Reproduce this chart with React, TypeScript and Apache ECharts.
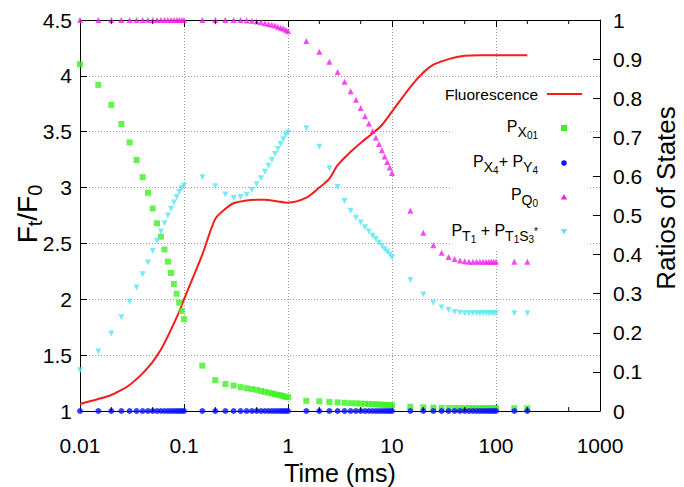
import React, { useEffect, useRef } from "react";
import * as echarts from "echarts";

// ---- data ----
const times = [
  0.01, 0.015, 0.02, 0.025, 0.03, 0.035, 0.04, 0.045, 0.05, 0.055, 0.06, 0.065, 0.07, 0.075, 0.08, 0.085, 0.09, 0.095, 0.1,
  0.15, 0.2, 0.25, 0.3, 0.35, 0.4, 0.45, 0.5, 0.55, 0.6, 0.65, 0.7, 0.75, 0.8, 0.85, 0.9, 0.95, 1.0,
  1.5, 2, 2.5, 3, 3.5, 4, 4.5, 5, 5.5, 6, 6.5, 7, 7.5, 8, 8.5, 9, 9.5, 10,
  15, 20, 25, 30, 35, 40, 45, 50, 55, 60, 65, 70, 75, 80, 85, 90, 95, 100,
  150, 200,
];

const pX01 = [
  0.887, 0.834, 0.783, 0.734, 0.687, 0.642, 0.598, 0.558, 0.518, 0.48, 0.446, 0.413, 0.382, 0.353, 0.325, 0.3, 0.277, 0.256, 0.235,
  0.116, 0.079, 0.069, 0.065, 0.061, 0.058, 0.056, 0.054, 0.051, 0.049, 0.047, 0.045, 0.043, 0.041, 0.04, 0.038, 0.036, 0.035,
  0.026, 0.025, 0.023, 0.022, 0.021, 0.02, 0.0195, 0.019, 0.0185, 0.018, 0.0175, 0.017, 0.0165, 0.016, 0.0158, 0.0154, 0.015, 0.0146,
  0.011, 0.0095, 0.0085, 0.008, 0.0078, 0.0076, 0.0075, 0.0074, 0.0073, 0.0072, 0.0072, 0.0071, 0.0071, 0.007, 0.007, 0.007, 0.007, 0.007,
  0.007, 0.007,
];

const pX4Y4 = [
  0, 0, 0, 0, 0, 0, 0, 0, 0, 0, 0, 0, 0, 0, 0, 0, 0, 0, 0,
  0, 0, 0, 0, 0, 0, 0, 0, 0, 0, 0, 0, 0, 0, 0, 0, 0, 0,
  0, 0, 0, 0, 0, 0, 0, 0, 0, 0, 0, 0, 0, 0, 0, 0, 0, 0,
  0, 0, 0, 0, 0, 0, 0, 0, 0, 0, 0, 0, 0, 0, 0, 0, 0, 0,
  0, 0,
];

const pQ0 = [
  1, 1, 1, 1, 1, 1, 1, 1, 1, 1, 1, 1, 1, 1, 1, 1, 1, 1, 1,
  1, 1, 1, 1, 1, 0.999, 0.998, 0.996, 0.994, 0.992, 0.99, 0.988, 0.986, 0.983, 0.98, 0.978, 0.975, 0.972,
  0.946, 0.919, 0.893, 0.867, 0.842, 0.818, 0.796, 0.775, 0.754, 0.735, 0.716, 0.699, 0.683, 0.667, 0.651, 0.637, 0.623, 0.609,
  0.512, 0.456, 0.424, 0.405, 0.394, 0.389, 0.385, 0.383, 0.382, 0.382, 0.382, 0.382, 0.382, 0.382, 0.382, 0.382, 0.382, 0.382,
  0.382, 0.382,
];

const pT1 = [
  0.104, 0.152, 0.198, 0.24, 0.28, 0.316, 0.35, 0.38, 0.409, 0.435, 0.459, 0.48, 0.5, 0.517, 0.533, 0.547, 0.56, 0.57, 0.576,
  0.598, 0.575, 0.554, 0.545, 0.547, 0.553, 0.565, 0.58, 0.595, 0.612, 0.627, 0.642, 0.657, 0.67, 0.683, 0.695, 0.706, 0.712,
  0.723, 0.676, 0.621, 0.573, 0.537, 0.512, 0.494, 0.482, 0.47, 0.459, 0.448, 0.44, 0.43, 0.422, 0.414, 0.407, 0.4, 0.393,
  0.335, 0.298, 0.277, 0.265, 0.258, 0.253, 0.251, 0.25, 0.25, 0.25, 0.25, 0.25, 0.25, 0.25, 0.25, 0.25, 0.25, 0.25,
  0.25, 0.25,
];

const flTime = [
  0.01, 0.015, 0.02, 0.025, 0.03, 0.035, 0.04, 0.05, 0.06, 0.07, 0.08, 0.09, 0.1,
  0.15, 0.2, 0.25, 0.3, 0.4, 0.5, 0.6, 0.7, 0.8,
  1, 1.5, 2, 2.5, 3, 4, 5, 6, 7, 8,
  10, 15, 20, 25, 30, 40, 50, 70, 100, 150, 200,
];
const flValue = [
  1.063, 1.107, 1.143, 1.188, 1.233, 1.286, 1.337, 1.44, 1.55, 1.67, 1.785, 1.89, 2.0,
  2.4, 2.72, 2.81, 2.86, 2.885, 2.89, 2.89, 2.885, 2.875,
  2.865, 2.91, 3.0, 3.08, 3.2, 3.32, 3.4, 3.46, 3.51, 3.56,
  3.68, 3.9, 4.03, 4.1, 4.13, 4.165, 4.18, 4.185, 4.185, 4.185, 4.185,
];

const xTickLabels = ["0.01", "0.1", "1", "10", "100", "1000"];
const xMinorTicks = [0.02, 0.05, 0.2, 0.5, 2, 5, 20, 50, 200, 500];

const FONT = "Liberation Sans";
const CSSFONT = '"Liberation Sans", Arial, Helvetica, sans-serif';

type Piece = { t: string; size: number; dy: number };

function measure(ctx: CanvasRenderingContext2D | null, t: string, size: number) {
  if (!ctx) return t.length * size * 0.55;
  ctx.font = `${size}px ${CSSFONT}`;
  return ctx.measureText(t).width;
}

function pieceTexts(ctx: any, pieces: Piece[], startX: number, cy: number, z: number) {
  let x = startX;
  return pieces.map((p) => {
    const el = {
      type: "text",
      x,
      y: cy + p.dy,
      z,
      style: {
        text: p.t,
        fontSize: p.size,
        fontFamily: FONT,
        fill: "#000",
        textAlign: "left",
        textVerticalAlign: "middle",
      },
    };
    x += measure(ctx, p.t, p.size);
    return el;
  });
}

function widthOf(ctx: any, pieces: Piece[]) {
  return pieces.reduce((s, p) => s + measure(ctx, p.t, p.size), 0);
}

export default function App() {
  const ref = useRef<HTMLDivElement>(null);
  useEffect(() => {
    if (!ref.current) return;
    const chart = echarts.init(ref.current, null, { renderer: "svg" });
    const canvas = document.createElement("canvas");
    const ctx = canvas.getContext("2d");

    const M = 16, S = 14, SS = 10, D1 = 5.5, D2 = 9.5;
    const legendRight = 538;
    const legendRows: { pieces: Piece[]; cy: number }[] = [
      { pieces: [{ t: "Fluorescence", size: 15.5, dy: 0 }], cy: 94 },
      { pieces: [{ t: "P", size: M, dy: 0 }, { t: "X", size: S, dy: D1 }, { t: "01", size: SS, dy: D2 }], cy: 126 },
      {
        pieces: [
          { t: "P", size: M, dy: 0 }, { t: "X", size: S, dy: D1 }, { t: "4", size: SS, dy: D2 },
          { t: "+ P", size: M, dy: 0 }, { t: "Y", size: S, dy: D1 }, { t: "4", size: SS, dy: D2 },
        ],
        cy: 161,
      },
      { pieces: [{ t: "P", size: M, dy: 0 }, { t: "Q", size: S, dy: D1 }, { t: "0", size: SS, dy: D2 }], cy: 194 },
      {
        pieces: [
          { t: "P", size: M, dy: 0 }, { t: "T", size: S, dy: D1 }, { t: "1", size: SS, dy: D2 },
          { t: " + P", size: M, dy: 0 }, { t: "T", size: S, dy: D1 }, { t: "1", size: SS, dy: D2 },
          { t: "S", size: S, dy: D1 }, { t: "3", size: SS, dy: D2 }, { t: "*", size: SS, dy: 1 },
        ],
        cy: 230,
      },
    ];

    const legendEls: any[] = [];
    legendRows.forEach((r) => {
      const w = widthOf(ctx, r.pieces);
      legendEls.push(...pieceTexts(ctx, r.pieces, legendRight - w, r.cy, 20));
    });

    const leftTitle: Piece[] = [
      { t: "F", size: 28, dy: 0 }, { t: "t", size: 20, dy: 8 }, { t: "/F", size: 28, dy: 0 }, { t: "0", size: 20, dy: 8 },
    ];
    const ltw = widthOf(ctx, leftTitle);

    const green = "#3ff022";
    const blue = "#0a12ff";
    const magenta = "#f51cf0";
    const cyan = "#55e6f2";
    const red = "#f41c1c";

    const option: any = {
      animation: false,
      backgroundColor: "#fff",
      textStyle: { fontFamily: FONT },
      grid: { left: 80, right: 84, top: 20, bottom: 76, outerBoundsMode: "none", containLabel: false },
      xAxis: [
        {
          type: "log",
          logBase: 10,
          min: 0.01,
          max: 1000,
          position: "bottom",
          axisLine: { show: true, lineStyle: { color: "#000", width: 1 } },
          axisTick: { show: true, inside: true, length: 7, lineStyle: { color: "#000" } },
          axisLabel: {
            fontSize: 21,
            color: "#000",
            fontFamily: FONT,
            margin: 24,
            formatter: (v: number) => xTickLabels[Math.round(Math.log10(v)) + 2] ?? "",
          },
          splitLine: { show: true, lineStyle: { color: "#9a9a9a", type: [1, 2], width: 1 } },
        },
        {
          type: "log",
          logBase: 10,
          min: 0.01,
          max: 1000,
          position: "top",
          axisLine: { show: true, lineStyle: { color: "#000", width: 1 } },
          axisTick: { show: true, inside: true, length: 7, lineStyle: { color: "#000" } },
          axisLabel: { show: false },
          splitLine: { show: false },
        },
      ],
      yAxis: [
        {
          type: "value",
          min: 1,
          max: 4.5,
          interval: 0.5,
          position: "left",
          axisLine: { show: true, lineStyle: { color: "#000", width: 1 } },
          axisTick: { show: true, inside: true, length: 7, lineStyle: { color: "#000" } },
          axisLabel: { fontSize: 21, color: "#000", fontFamily: FONT, margin: 8 },
          splitLine: { show: true, lineStyle: { color: "#9a9a9a", type: [1, 2], width: 1 } },
        },
        {
          type: "value",
          min: 0,
          max: 1,
          interval: 0.1,
          position: "right",
          axisLine: { show: true, lineStyle: { color: "#000", width: 1 } },
          axisTick: { show: true, inside: true, length: 7, lineStyle: { color: "#000" } },
          axisLabel: { fontSize: 21, color: "#000", fontFamily: FONT, margin: 13 },
          splitLine: { show: false },
        },
      ],
      graphic: [
        { type: "rect", shape: { x: 452, y: 78, width: 137, height: 172 }, style: { fill: "#fff" }, z: 1, silent: true },
        ...legendEls,
        { type: "line", shape: { x1: 547, y1: 94, x2: 582, y2: 94 }, style: { stroke: red, lineWidth: 2 }, z: 20 },
        { type: "rect", shape: { x: 561, y: 125, width: 6, height: 6 }, style: { fill: green }, z: 20 },
        { type: "circle", shape: { cx: 564, cy: 163, r: 2.8 }, style: { fill: blue }, z: 20 },
        { type: "polygon", shape: { points: [[564, 194], [567.2, 199.5], [560.8, 199.5]] }, style: { fill: magenta }, z: 20 },
        { type: "polygon", shape: { points: [[560.8, 229], [567.2, 229], [564, 234.5]] }, style: { fill: cyan }, z: 20 },
        {
          type: "text",
          x: 340,
          y: 473,
          z: 20,
          style: {
            text: "Time (ms)",
            fontSize: 25,
            fontFamily: FONT,
            fill: "#000",
            textAlign: "center",
            textVerticalAlign: "middle",
          },
        },
        {
          type: "group",
          x: 27,
          y: 214,
          rotation: Math.PI / 2,
          z: 20,
          children: pieceTexts(ctx, leftTitle, -ltw / 2, 0, 20),
        },
        {
          type: "text",
          x: 666,
          y: 198,
          rotation: Math.PI / 2,
          z: 20,
          style: {
            text: "Ratios of States",
            fontSize: 26,
            fontFamily: FONT,
            fill: "#000",
            textAlign: "center",
            textVerticalAlign: "middle",
          },
        },
      ],
      series: [
        {
          name: "Fluorescence",
          type: "line",
          xAxisIndex: 0,
          yAxisIndex: 0,
          data: flTime.map((t, i) => [t, flValue[i]]),
          smooth: 0.3,
          symbol: "none",
          lineStyle: { color: red, width: 2 },
          z: 2,
        },
        {
          name: "PX01",
          type: "scatter",
          xAxisIndex: 0,
          yAxisIndex: 1,
          data: times.map((t, i) => [t, pX01[i]]),
          symbol: "rect",
          symbolSize: 6,
          itemStyle: { color: green },
          z: 3,
        },
        {
          name: "PX4+PY4",
          type: "scatter",
          xAxisIndex: 0,
          yAxisIndex: 1,
          data: times.map((t, i) => [t, pX4Y4[i]]),
          symbol: "circle",
          symbolSize: 6,
          itemStyle: { color: blue },
          z: 3,
        },
        {
          name: "PQ0",
          type: "scatter",
          xAxisIndex: 0,
          yAxisIndex: 1,
          data: times.map((t, i) => [t, pQ0[i]]),
          symbol: "triangle",
          symbolSize: 6,
          itemStyle: { color: magenta },
          z: 3,
        },
        {
          name: "PT1+PT1S3",
          type: "scatter",
          xAxisIndex: 0,
          yAxisIndex: 1,
          data: times.map((t, i) => [t, pT1[i]]),
          symbol: "triangle",
          symbolRotate: 180,
          symbolSize: 6,
          itemStyle: { color: cyan },
          z: 3,
        },
        {
          type: "custom",
          xAxisIndex: 0,
          yAxisIndex: 0,
          silent: true,
          clip: false,
          z: 4,
          data: xMinorTicks.map((v) => [v, 1]),
          renderItem: (_p: any, api: any) => {
            const v = api.value(0);
            const b = api.coord([v, 1]);
            const t = api.coord([v, 4.5]);
            return {
              type: "group",
              children: [
                { type: "line", shape: { x1: b[0], y1: b[1], x2: b[0], y2: b[1] - 4 }, style: { stroke: "#000", lineWidth: 1 } },
                { type: "line", shape: { x1: t[0], y1: t[1], x2: t[0], y2: t[1] + 4 }, style: { stroke: "#000", lineWidth: 1 } },
              ],
            };
          },
        },
      ],
    };
    chart.setOption(option);
    return () => chart.dispose();
  }, []);
  return (
    <div
      ref={ref}
      style={{ position: "fixed", left: 0, top: 0, width: 684, height: 487, background: "#fff" }}
    />
  );
}
